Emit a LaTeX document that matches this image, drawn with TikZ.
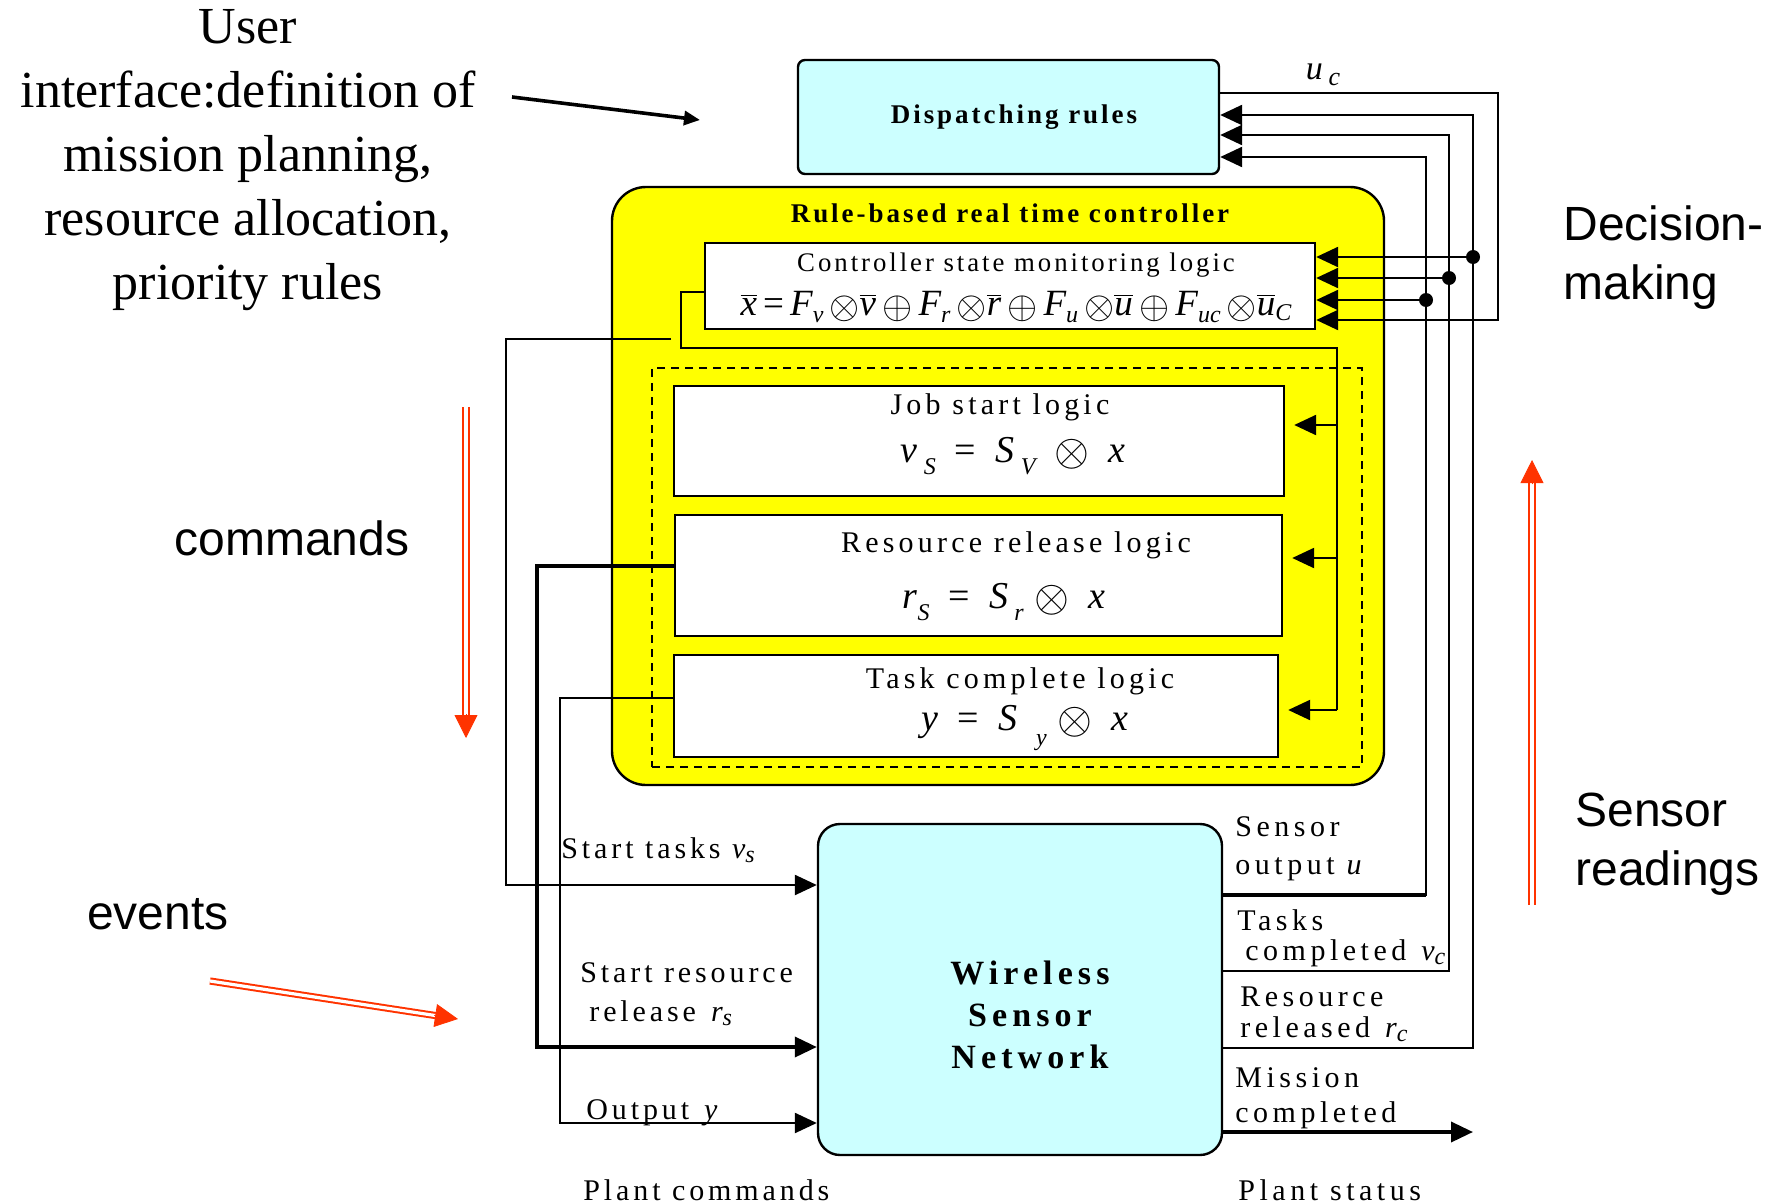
\documentclass[tikz,border=0pt]{standalone}
\usepackage{fontspec}
\setmainfont{Liberation Serif}
\setsansfont{Liberation Sans}
\usetikzlibrary{arrows.meta,calc}

\definecolor{paleCyan}{HTML}{CCFFFF}
\definecolor{ctrlYellow}{HTML}{FFFF00}
\definecolor{redOrange}{HTML}{FF3300}

% italic letters, overbars and lowered subscripts for the logic equations
\newcommand\iv[1]{{\itshape #1}}
\newcommand\ovl[1]{\ensuremath{\overline{\hbox{\itshape #1}}}}
\newcommand\lowsub[2][-0.45ex]{\raisebox{#1}{\fontsize{12}{13}\selectfont\itshape #2}}
\newcommand\otm[1][1.3]{\raisebox{-0.08em}{\scalebox{#1}{$\otimes$}}}
\newcommand\opl[1][1.3]{\raisebox{-0.08em}{\scalebox{#1}{$\oplus$}}}

\tikzset{
  wire/.style={draw=black, line width=1.2pt},
  heavywire/.style={draw=black, line width=1.8pt},
  tipped/.style={-{Triangle[length=11pt,width=10pt]}},
  blockbox/.style={draw=black, line width=1.2pt, inner sep=0pt},
  junction/.style={circle, fill=black, inner sep=0pt, minimum size=7pt},
  boxtitle/.style={font=\fontsize{13.5}{16}\selectfont\bfseries\addfontfeature{LetterSpace=11}, inner sep=0pt},
  logictitle/.style={font=\fontsize{15}{17}\selectfont\addfontfeature{LetterSpace=14}, inner sep=0pt},
  logiceq/.style={font=\fontsize{19}{22}\selectfont, inner sep=0pt},
  sigleft/.style={font=\fontsize{15}{17}\selectfont\addfontfeature{LetterSpace=13}, inner sep=0pt, anchor=west},
  sigright/.style={font=\fontsize{15}{17}\selectfont\addfontfeature{LetterSpace=15}, inner sep=0pt, anchor=west},
  sidenote/.style={font=\fontsize{24}{29.5}\selectfont\sffamily, inner sep=0pt},
  redshaft/.style={draw=redOrange, line width=1pt, double=white, double distance=1.6pt},
  redtip/.style={draw=redOrange, fill=redOrange, line width=0.4pt, -{Triangle[length=11.5pt,width=11.5pt]}},
}

\begin{document}
\begin{tikzpicture}[x=0.5pt,y=-0.5pt]
\useasboundingbox (0,0) rectangle (1773,1204);

% ---------- blocks ----------
\node[blockbox, fill=paleCyan, rounded corners=3.5pt, minimum width=210.5pt, minimum height=57pt] (disp) at (1008.5,117) {};
\node[boxtitle] (dispText) at (1014,117) {Dispatching rules};

\node[blockbox, fill=ctrlYellow, rounded corners=17pt, minimum width=386pt, minimum height=299pt] (ctrl) at (998,486) {};
\node[boxtitle] (ctrlText) at (1010,213) {Rule-based real time controller};

\node[blockbox, fill=white, minimum width=305pt, minimum height=43pt] (csm) at (1010,286) {};
\node[logictitle, font=\fontsize{13.4}{15}\selectfont\addfontfeature{LetterSpace=11}] (csmText) at (1016,265) {Controller state monitoring logic};
\node[logiceq, font=\fontsize{18.5}{21}\selectfont] (csmEq) at (1016,307)
  {\ovl{x}\,=\,\iv{F}\lowsub{v}\,\otm[1.12]\ovl{v}\,\opl[1.12]\,\iv{F}\lowsub{r}\,\otm[1.12]\ovl{r}\,\opl[1.12]\,\iv{F}\lowsub{u}\,\otm[1.12]\ovl{u}\,\opl[1.12]\,\iv{F}\lowsub{uc}\,\otm[1.12]\ovl{u}\lowsub[-0.3ex]{C}};

\node[draw=black, line width=0.7pt, dash pattern=on 4pt off 3pt, minimum width=355pt, minimum height=199.5pt, inner sep=0pt] (group) at (1007,567.5) {};

\node[blockbox, fill=white, minimum width=305pt, minimum height=55pt] (job) at (979,441) {};
\node[logictitle] (jobText) at (1000,407) {Job start logic};
\node[logiceq] (jobEq) at (1013,456) {\iv{v}\,\lowsub[-0.7ex]{S}\enspace=\enspace\iv{S}\,\lowsub[-0.7ex]{V}\enspace\otm\enspace\iv{x}};

\node[blockbox, fill=white, minimum width=303.5pt, minimum height=60.5pt] (res) at (978.5,575.5) {};
\node[logictitle] (resText) at (1016,545) {Resource release logic};
\node[logiceq] (resEq) at (1004,602) {\iv{r}\lowsub[-0.7ex]{S}\enspace=\enspace\iv{S}\,\lowsub[-0.7ex]{r}\;\otm\enspace\iv{x}};

\node[blockbox, fill=white, minimum width=302pt, minimum height=51pt] (task) at (976,706) {};
\node[logictitle] (taskText) at (1020,681) {Task complete logic};
\node[logiceq] (taskEq) at (1025,728) {\iv{y}\enspace=\enspace\iv{S}\enspace\lowsub[-0.9ex]{y}\;\otm\enspace\iv{x}};

\node[blockbox, fill=paleCyan, rounded corners=11pt, minimum width=202pt, minimum height=165.5pt] (wsn) at (1020,989.5) {};
\node[align=center, inner sep=0pt, font=\fontsize{17}{21}\selectfont\bfseries\addfontfeature{LetterSpace=15}] (wsnText) at (1030,1015) {Wireless\\Sensor\\Network};

% ---------- side texts ----------
\node[align=center, inner sep=0pt, font=\fontsize{26}{32}\selectfont] (userText) at (248,160)
  {User\\interface:definition of\\mission planning,\\resource allocation,\\priority rules};
\node[sidenote] (cmdText) at (292,538) {commands};
\node[sidenote] (evText) at (158,914) {events};
\node[sidenote, anchor=west, align=left] (decText) at (1563,258) {Decision-\\making};
\node[sidenote, anchor=west, align=left] (senseText) at (1575,844) {Sensor\\readings};

% ---------- signal labels ----------
\node[font=\fontsize{17}{20}\selectfont, inner sep=0pt] (ucText) at (1323,75) {\iv{u}\,\lowsub[-0.4ex]{\fontsize{13}{14}\selectfont c}};
\node[sigleft] (lblStart) at (561,850) {Start tasks \iv{v}\lowsub[-0.3ex]{s}};
\node[sigleft] (lblRes1) at (580,973) {Start resource};
\node[sigleft] (lblRes2) at (589,1013) {release\enspace\iv{r}\lowsub[-0.3ex]{s}};
\node[sigleft] (lblOut) at (586,1113) {Output\enspace\iv{y}};
\node[sigleft] (lblCmd) at (583,1190) {Plant commands};
\node[sigright] (lblSen1) at (1235,827) {Sensor};
\node[sigright] (lblSen2) at (1235,869) {output \iv{u}};
\node[sigright] (lblTask1) at (1237,920) {Tasks};
\node[sigright] (lblTask2) at (1245,953) {completed\enspace\iv{v}\lowsub[-0.3ex]{c}};
\node[sigright] (lblRel1) at (1240,997) {Resource};
\node[sigright] (lblRel2) at (1240,1029) {released\enspace\iv{r}\lowsub[-0.3ex]{c}};
\node[sigright] (lblMis1) at (1235,1078) {Mission};
\node[sigright] (lblMis2) at (1235,1115) {completed};
\node[sigright] (lblStatus) at (1238,1190) {Plant status};

% ---------- routing points ----------
\coordinate (ucR) at (1498,93);
\coordinate (m1) at (1473,257);
\coordinate (m2) at (1449,278);
\coordinate (m3) at (1426,300);
\coordinate (m4) at (1498,320);
\coordinate (d1) at (1473,115);
\coordinate (d2) at (1449,135);
\coordinate (d3) at (1426,157);
\coordinate (o1) at (1426,895);
\coordinate (o2) at (1449,971);
\coordinate (o3) at (1473,1048);
\coordinate (o4) at (1473,1132);

\coordinate (f1) at (681,292);
\coordinate (f2) at (681,348);
\coordinate (f3) at (1337,348);
\coordinate (f4) at (1337,710);
\coordinate (fj) at (1337,425);
\coordinate (fr) at (1337,558);

\coordinate (g0) at (671,339);
\coordinate (g1) at (506,339);
\coordinate (g2) at (506,885);
\coordinate (h1) at (537,566);
\coordinate (h2) at (537,1047);
\coordinate (i1) at (560,698);
\coordinate (i2) at (560,1123);

% ---------- feedback to dispatching rules and state monitor ----------
\draw[wire, tipped] (disp.east |- ucR) -- (ucR) -- (m4) -- (csm.east |- m4);
\draw[wire, tipped] (wsn.east |- o3) -- (o3) -- (d1) -- (disp.east |- d1);
\draw[wire, tipped] (wsn.east |- o2) -- (o2) -- (d2) -- (disp.east |- d2);
\draw[wire, tipped] (wsn.east |- o1) -- (o1) -- (d3) -- (disp.east |- d3);
\draw[heavywire] (wsn.east |- o1) -- (o1);
\draw[wire, tipped] (m1) -- (csm.east |- m1);
\draw[wire, tipped] (m2) -- (csm.east |- m2);
\draw[wire, tipped] (m3) -- (csm.east |- m3);
\node[junction] (j1) at (m1) {};
\node[junction] (j2) at (m2) {};
\node[junction] (j3) at (m3) {};
\draw[heavywire, tipped] (wsn.east |- o4) -- (o4);

% ---------- state vector to the logic blocks ----------
\draw[wire] (csm.west |- f1) -- (f1) -- (f2) -- (f3) -- (f4);
\draw[wire, tipped, shorten >=4.5pt] (fj) -- (job.east |- fj);
\draw[wire, tipped, shorten >=4.5pt] (fr) -- (res.east |- fr);
\draw[wire, tipped, shorten >=4.5pt] (f4) -- (task.east |- f4);

% ---------- plant commands ----------
\draw[wire, tipped] (g0) -- (g1) -- (g2) -- (wsn.west |- g2);
\draw[heavywire, tipped] (res.west |- h1) -- (h1) -- (h2) -- (wsn.west |- h2);
\draw[wire, tipped] (task.west |- i1) -- (i1) -- (i2) -- (wsn.west |- i2);

% ---------- user interface arrow ----------
\coordinate (uiA) at (512,97);
\coordinate (uiB) at (700,120);
\draw[line width=1.8pt, -{Triangle[length=8pt,width=7pt]}] (uiA) -- (uiB);

% ---------- double red flow arrows ----------
\coordinate (cmdTop) at (466,407);
\coordinate (cmdTip) at (466,738);
\draw[redshaft] (cmdTop) -- ($(cmdTip)!11pt!(cmdTop)$);
\draw[redtip] ($(cmdTip)!12pt!(cmdTop)$) -- (cmdTip);

\coordinate (senBot) at (1532,905);
\coordinate (senTip) at (1532,460);
\draw[redshaft] (senBot) -- ($(senTip)!11pt!(senBot)$);
\draw[redtip] ($(senTip)!12pt!(senBot)$) -- (senTip);

\coordinate (evTail) at (210,981);
\coordinate (evTip) at (458,1019);
\draw[redshaft] (evTail) -- ($(evTip)!11pt!(evTail)$);
\draw[redtip] ($(evTip)!12pt!(evTail)$) -- (evTip);
\end{tikzpicture}
\end{document}
